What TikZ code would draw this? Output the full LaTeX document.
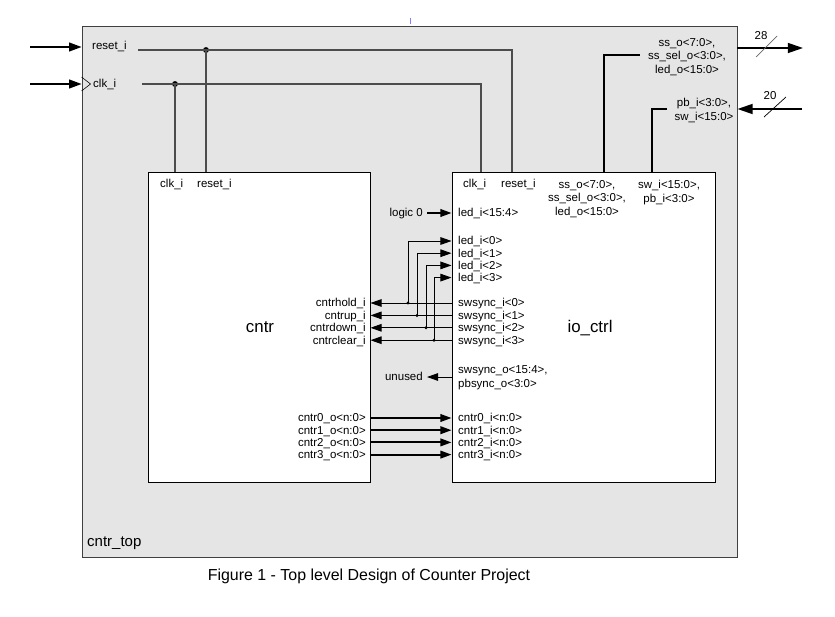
\documentclass[tikz,border=0pt]{standalone}
\usepackage{fontspec}
\setmainfont{Liberation Sans}
\usepackage{tikz}
\usetikzlibrary{arrows.meta}
\usetikzlibrary{calc}

\begin{document}
\begin{tikzpicture}[x=0.03cm, y=-0.03cm]%%cntr_top
                \tikzstyle{block}    = [draw, fill=white, line width=0.8pt, inner sep=0pt]
                \tikzstyle{lbl}      = [inner sep=0pt, font=\fontsize{9.8}{11.5}\selectfont, text height=7.8pt, text depth=1pt]
                \tikzstyle{lblm}     = [inner sep=0pt, font=\fontsize{9.8}{11.5}\selectfont, align=center]
                \tikzstyle{namelbl}  = [inner sep=0pt, font=\fontsize{14.4}{16}\selectfont, anchor=base]
                \tikzstyle{wire}     = [line width=0.8pt]
                \tikzstyle{gwire}    = [line width=1.4pt, draw=black!70]
                \tikzstyle{bus}      = [line width=1.6pt]
                \tikzstyle{pinarrow} = [-{Triangle[length=9.5pt, width=6.5pt]}]
                \tikzstyle{bigarrow} = [-{Triangle[length=13pt, width=8.5pt]}]
                \tikzstyle{junction} = [circle, fill=black, inner sep=0pt, minimum size=5pt]

                \useasboundingbox (0,0) rectangle (835,617);
                \node [draw=black!75, line width=0.8pt, fill=black!10, minimum width=19.65cm, minimum height=15.93cm](top) at (409.5,291.5) {};
                \node [block, minimum width=6.66cm, minimum height=9.3cm](cntr) at (259,327) {};
                \node [block, minimum width=7.89cm, minimum height=9.3cm](io) at (583.5,327) {};
                \draw [blue!50, line width=0.6pt] (410,18) -- (410,24);

                \node [namelbl](cntrname) at (260,332) {cntr};
                \node [namelbl](ioname) at (590,332) {io\_ctrl};
                \node [inner sep=0pt, font=\fontsize{12.8}{14}\selectfont, anchor=base west](topname) at (87,546) {cntr\_top};
                \node [inner sep=0pt, font=\fontsize{13.6}{16}\selectfont, anchor=base](caption) at (369,580) {Figure 1 - Top level Design of Counter Project};

                % top level inputs
                \coordinate (rst_in) at (30,47);
                \coordinate (clk_in) at (30,84);
                \draw [wire, line width=1.1pt, -{Triangle[length=10.5pt, width=7.5pt]}] (rst_in) -- (top.west |- rst_in);
                \draw [wire, line width=1.1pt, -{Triangle[length=10.5pt, width=7.5pt]}] (clk_in) -- (top.west |- clk_in);
                \draw [line width=0.5pt] ($(top.west |- clk_in)+(0,-7)$) -- ($(top.west |- clk_in)+(9,0)$) -- ($(top.west |- clk_in)+(0,7)$);
                \node [lbl, anchor=west](rst) at (92,46) {reset\_i};
                \node [lbl, anchor=west](clk) at (93,84) {clk\_i};

                \coordinate (rst_w) at (138,50);
                \coordinate (clk_w) at (142,84);
                \coordinate (io_rst) at (512,172);
                \coordinate (io_clk) at (481,172);
                \node [junction](jr) at (206,50) {};
                \node [junction](jc) at (175,84) {};
                \draw [gwire] (rst_w) -| (io_rst);
                \draw [gwire] (clk_w) -| (io_clk);
                \draw [gwire] (jr.center) -- (cntr.north -| jr);
                \draw [gwire] (jc.center) -- (cntr.north -| jc);

                \node [lbl, anchor=west](c_clk) at (160,184) {clk\_i};
                \node [lbl, anchor=west](c_rst) at (197,184) {reset\_i};
                \node [lbl, anchor=west](i_clk) at (463,184) {clk\_i};
                \node [lbl, anchor=west](i_rst) at (501,184) {reset\_i};
                \node [lblm, anchor=north](i_out) at (587,180) {ss\_o<7:0>,\\ss\_sel\_o<3:0>,\\led\_o<15:0>};
                \node [lblm, anchor=north](i_in) at (669,180) {sw\_i<15:0>,\\pb\_i<3:0>};

                % top level outputs
                \node [lblm, anchor=north](o_lbl) at (687,38) {ss\_o<7:0>,\\ss\_sel\_o<3:0>,\\led\_o<15:0>};
                \node [lblm, anchor=north](p_lbl) at (704,98) {pb\_i<3:0>,\\sw\_i<15:0>};
                \coordinate (io_out) at (604,172);
                \coordinate (io_in) at (652,172);
                \coordinate (o_end) at (640,55);
                \coordinate (p_end) at (667,109);
                \draw [bus] (io_out) |- (o_end);
                \draw [bus] (io_in) |- (p_end);
                \coordinate (o28) at (803,48);
                \coordinate (i20) at (802,109);
                \draw [bus, bigarrow] (top.east |- o28) -- (o28);
                \draw [bus, bigarrow] (i20) -- (top.east |- i20);
                \draw [black!60, line width=0.6pt] (756,57) -- (777,36);
                \draw [line width=0.6pt] (764,117) -- (786,97);
                \node [lbl](n28) at (761,36) {28};
                \node [lbl](n20) at (770,96) {20};

                \node [lbl, anchor=east](lg0) at (423,213) {logic 0};
                \node [lbl, anchor=west](led_hi) at (458,213) {led\_i<15:4>};
                \draw [bus, pinarrow] ($(lg0.east)+(4,0)$) -- (io.west |- lg0);

                \foreach \i/\nm/\x in {0/hold/408, 1/up/417, 2/down/426, 3/clear/434}{
                        \pgfmathsetmacro{\ys}{303+12.4*\i}
                        \pgfmathsetmacro{\yl}{241+12.2*\i}
                        \node [lbl, anchor=east](ch\i) at (366,\ys) {cntr\nm\_i};
                        \node [lbl, anchor=west](sw\i) at (458,\ys) {swsync\_i<\i>};
                        \node [lbl, anchor=west](ld\i) at (458,\yl) {led\_i<\i>};
                        \node [junction, minimum size=2.8pt](j\i) at (\x,\ys) {};
                        \draw [wire, pinarrow] (io.west |- sw\i) -- (cntr.east |- sw\i);
                        \draw [wire, pinarrow] (j\i.center) |- (io.west |- ld\i);
                }

                \node [lbl, anchor=east](unu) at (423,377) {unused};
                \node [lblm, anchor=north west, align=left](sw_o) at (458,365.5) {swsync\_o<15:4>,\\pbsync\_o<3:0>};
                \draw [wire, pinarrow] (io.west |- unu) -- ($(unu.east)+(4,0)$);

                \foreach \i in {0,...,3}{
                        \pgfmathsetmacro{\yo}{418+12.2*\i}
                        \node [lbl, anchor=east](co\i) at (366,\yo) {cntr\i\_o<n:0>};
                        \node [lbl, anchor=west](ci\i) at (458,\yo) {cntr\i\_i<n:0>};
                        \draw [bus, pinarrow] (cntr.east |- co\i) -- (io.west |- ci\i);
                }
\end{tikzpicture}
\end{document}
